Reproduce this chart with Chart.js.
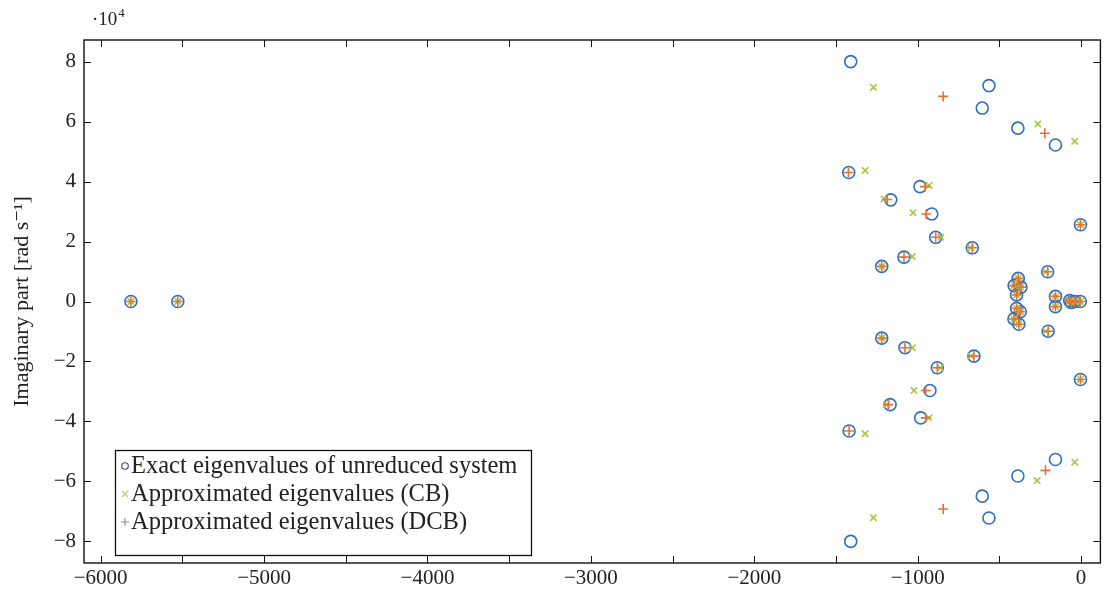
<!DOCTYPE html>
<html>
<head>
<meta charset="utf-8">
<script src="https://cdn.jsdelivr.net/npm/chart.js@4/dist/chart.umd.min.js"></script>
<style>
  html, body { margin: 0; padding: 0; background: #ffffff; }
  #wrap { width: 1108px; height: 591px; position: relative; }
</style>
</head>
<body>
<div id="wrap"><canvas id="c" width="1108" height="591"></canvas></div>
<script>
// Eigenvalues: real part [1/s] and imaginary part [rad/s]
const exactRe = [-5815, -5528, -1410, -1410, -564, -564, -605, -605, -387, -387, -157, -157,
  -1422, -1420, -986, -982, -1165, -1169, -914, -925, -890, -880, -666, -656,
  -1084, -1078, -1220, -1220, -4, -4, -205, -202,
  -385, -410, -368, -395, -395, -372, -411, -381,
  -157, -157, -70, -40, -5, -60];
const exactIm = [0, 0, 80000, -80000, 72000, -72200, 64500, -64900, 57800, -58200, 52200, -52700,
  43000, -43200, 38300, -38800, 33900, -34400, 29200, -29700, 21400, -22100, 17900, -18200,
  14800, -15400, 11700, -12200, 25600, -26000, 9900, -9900,
  7700, 5300, 4800, 2200, -2300, -3400, -5800, -7600,
  1700, -1700, 300, 0, 0, -300];

const cbRe = [-5815, -5528, -1271, -1271, -265, -269, -39, -39, -1322, -1322,
  -930, -931, -1206, -1190, -1029, -1023, -859, -860, -675, -675,
  -1033, -1033, -1220, -1220, -4, -4, -215, -215,
  -385, -410, -368, -395, -395, -372, -411, -381,
  -157, -157, -70, -40, -5, -60];
const cbIm = [0, 0, 71400, -72100, 59200, -59700, 53400, -53600, 43700, -44100,
  38700, -38800, 34200, -34400, 29600, -29700, 21400, -22100, 17900, -18200,
  15000, -15400, 11700, -12200, 25600, -26000, 9900, -9900,
  7700, 5300, 4800, 2200, -2300, -3400, -5800, -7600,
  1700, -1700, 300, 0, 0, -300];

const dcbRe = [-5815, -5528, -844, -844, -222, -218, -1424, -1420,
  -955, -951, -1186, -1180, -947, -951, -890, -880, -666, -656,
  -1084, -1078, -1220, -1220, -4, -4, -205, -202,
  -385, -410, -368, -395, -395, -372, -411, -381,
  -157, -157, -70, -40, -5, -60];
const dcbIm = [0, 0, 68400, -69200, 56100, -56300, 43000, -43200,
  38300, -38800, 34000, -34400, 29200, -29700, 21400, -22100, 17900, -18200,
  14800, -15400, 11700, -12200, 25600, -26000, 9900, -9900,
  7700, 5300, 4800, 2200, -2300, -3400, -5800, -7600,
  1700, -1700, 300, 0, 0, -300];

const seriesNames = [
  'Exact eigenvalues of unreduced system',
  'Approximated eigenvalues (CB)',
  'Approximated eigenvalues (DCB)'
];

const xTickValues = [-6000, -5000, -4000, -3000, -2000, -1000, 0];
const xTickMarks = [-6000, -5500, -5000, -4500, -4000, -3500, -3000, -2500, -2000, -1500, -1000, -500, 0];
const yTickValues = [-80000, -60000, -40000, -20000, 0, 20000, 40000, 60000, 80000];
const yTickLabels = ['\u22128', '\u22126', '\u22124', '\u22122', '0', '2', '4', '6', '8'];

const SERIF = '"Liberation Serif", "DejaVu Serif", serif';

function pts(re, im) { return re.map((x, i) => ({ x: x, y: im[i] })); }
function fmtMinus(v) { return v < 0 ? '\u2212' + Math.abs(v) : String(v); }

// Frame, inward ticks on all four sides, exponent label and legend box
const framePlugin = {
  id: 'frame',
  afterDraw(chart) {
    const ctx = chart.ctx;
    const a = chart.chartArea;
    const xs = chart.scales.x, ys = chart.scales.y;
    const tl = 7;
    ctx.save();
    ctx.strokeStyle = '#111';
    ctx.lineWidth = 1;
    ctx.beginPath();
    xTickMarks.forEach(v => {
      const px = Math.round(xs.getPixelForValue(v)) + 0.5;
      ctx.moveTo(px, a.bottom); ctx.lineTo(px, a.bottom - tl);
      ctx.moveTo(px, a.top); ctx.lineTo(px, a.top + tl);
    });
    yTickValues.forEach(v => {
      const py = Math.round(ys.getPixelForValue(v)) + 0.5;
      ctx.moveTo(a.left, py); ctx.lineTo(a.left + tl, py);
      ctx.moveTo(a.right, py); ctx.lineTo(a.right - tl, py);
    });
    ctx.stroke();
    ctx.lineWidth = 1.4;
    ctx.strokeRect(a.left, a.top, a.right - a.left, a.bottom - a.top);

    // exponent of the y axis
    ctx.fillStyle = '#222';
    ctx.textBaseline = 'alphabetic';
    ctx.textAlign = 'left';
    ctx.font = '19px ' + SERIF;
    const base = '\u00b710';
    ctx.fillText(base, 92, 25);
    const bw = ctx.measureText(base).width;
    ctx.font = '13px ' + SERIF;
    ctx.fillText('4', 92 + bw + 1, 17);

    // legend
    const lx = 115, ly = 450, lw = 416, lh = 105;
    ctx.fillStyle = '#fff';
    ctx.fillRect(lx, ly, lw, lh);
    ctx.lineWidth = 1.3;
    ctx.strokeStyle = '#111';
    ctx.strokeRect(lx + 0.5, ly + 0.5, lw, lh);
    const rows = [466, 494, 522];
    ctx.font = '24.5px ' + SERIF;
    ctx.textBaseline = 'middle';
    ctx.fillStyle = '#222';
    rows.forEach((ry, i) => {
      const mx = 125;
      ctx.lineWidth = 1.1;
      ctx.beginPath();
      if (i === 0) {
        ctx.strokeStyle = '#3d3f96';
        ctx.arc(mx, ry, 3.3, 0, Math.PI * 2);
      } else if (i === 1) {
        ctx.strokeStyle = '#b5cf55';
        ctx.moveTo(mx - 3, ry - 3); ctx.lineTo(mx + 3, ry + 3);
        ctx.moveTo(mx - 3, ry + 3); ctx.lineTo(mx + 3, ry - 3);
      } else {
        ctx.strokeStyle = '#8a8a8a';
        ctx.moveTo(mx - 4, ry); ctx.lineTo(mx + 4, ry);
        ctx.moveTo(mx, ry - 4); ctx.lineTo(mx, ry + 4);
      }
      ctx.stroke();
      ctx.fillText(seriesNames[i], 131, ry + 1);
    });
    ctx.restore();
  }
};

new Chart(document.getElementById('c'), {
  type: 'scatter',
  data: {
    datasets: [
      {
        label: seriesNames[0],
        data: pts(exactRe, exactIm),
        pointStyle: 'circle',
        pointRadius: 6,
        pointHoverRadius: 6,
        pointBorderWidth: 1.6,
        borderColor: '#2f6fbd',
        backgroundColor: 'rgba(0,0,0,0)',
        order: 3
      },
      {
        label: seriesNames[1],
        data: pts(cbRe, cbIm),
        pointStyle: 'crossRot',
        pointRadius: 4.5,
        pointHoverRadius: 4.5,
        pointBorderWidth: 1.6,
        borderColor: '#a6c63e',
        backgroundColor: '#a6c63e',
        order: 2
      },
      {
        label: seriesNames[2],
        data: pts(dcbRe, dcbIm),
        pointStyle: 'cross',
        pointRadius: 5,
        pointHoverRadius: 5,
        pointBorderWidth: 1.6,
        borderColor: '#ea7038',
        backgroundColor: '#ea7038',
        order: 1
      }
    ]
  },
  options: {
    responsive: false,
    animation: false,
    events: [],
    layout: { padding: { top: 40, right: 6, left: 0, bottom: 0 } },
    plugins: { legend: { display: false }, tooltip: { enabled: false } },
    scales: {
      x: {
        type: 'linear',
        min: -6102,
        max: 118,
        grid: { display: false, drawTicks: false },
        border: { display: false },
        afterFit(s) { s.height = 28; },
        afterBuildTicks(s) { s.ticks = xTickValues.map(v => ({ value: v })); },
        ticks: {
          padding: 3,
          color: '#222',
          font: { family: SERIF, size: 21 },
          maxRotation: 0,
          autoSkip: false,
          callback: v => fmtMinus(v)
        }
      },
      y: {
        type: 'linear',
        min: -87200,
        max: 87200,
        grid: { display: false, drawTicks: false },
        border: { display: false },
        afterFit(s) { s.width = 84; },
        afterBuildTicks(s) { s.ticks = yTickValues.map(v => ({ value: v })); },
        ticks: {
          padding: 8,
          color: '#222',
          font: { family: SERIF, size: 21 },
          autoSkip: false,
          callback: v => yTickLabels[yTickValues.indexOf(v)]
        },
        title: {
          display: true,
          text: 'Imaginary part [rad s\u207b\u00b9]',
          color: '#222',
          font: { family: SERIF, size: 22 },
          padding: { top: 9, bottom: 0 }
        }
      }
    }
  },
  plugins: [framePlugin]
});
</script>
</body>
</html>
